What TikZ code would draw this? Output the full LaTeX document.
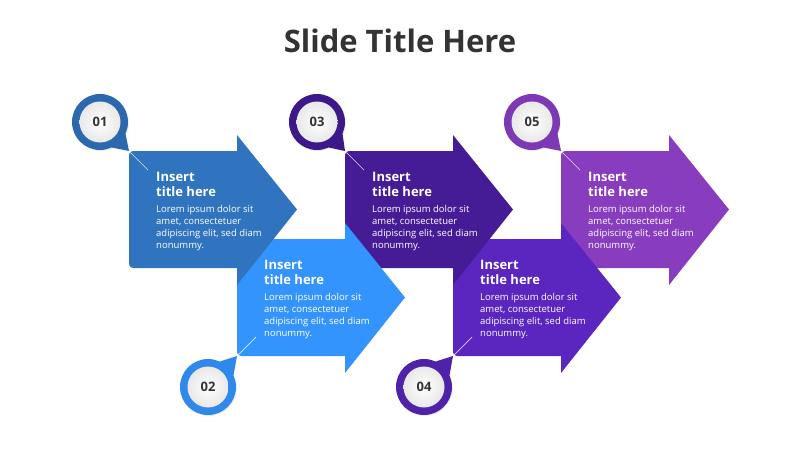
\documentclass[tikz,border=0pt]{standalone}
\usepackage{fontspec}
\setmainfont{Open Sans}
\usepackage{tikz}
\usetikzlibrary{calc,positioning,shadows}
\definecolor{arrowA}{HTML}{3074C0}
\definecolor{arrowB}{HTML}{3494FE}
\definecolor{arrowC}{HTML}{461C96}
\definecolor{arrowD}{HTML}{5B25BF}
\definecolor{arrowE}{HTML}{883DBF}
\definecolor{ringA}{HTML}{2B68AE}
\definecolor{ringB}{HTML}{2E89EA}
\definecolor{ringC}{HTML}{3D188A}
\definecolor{ringD}{HTML}{4F22A9}
\definecolor{ringE}{HTML}{7D38B3}
\definecolor{darkgray}{HTML}{333333}

\begin{document}
\begin{tikzpicture}[x=1pt,y=-1pt,
    ring/.style={circle,minimum size=56pt,inner sep=0pt,drop shadow={opacity=.15,shadow xshift=.8pt,shadow yshift=-1pt}},
    badge/.style={circle,minimum size=41pt,inner sep=0pt,inner color=white,outer color=black!9,text=darkgray,font=\bfseries\fontsize{13}{13}\selectfont},
    heading/.style={anchor=north west,inner sep=0pt,align=left,text=white,font=\bfseries\fontsize{13}{15}\selectfont},
    bodytext/.style={inner sep=0pt,align=left,text=white,font=\fontsize{9.5}{12}\selectfont},
    tick/.style={white,line width=.7pt,opacity=.8}]
    \fill[white] (0,0) rectangle (800,450);

    \node[font=\bfseries\fontsize{31}{31}\selectfont,text=darkgray,anchor=base] (title) at (400,52) {Slide Title Here};

    \fill[arrowE,rounded corners=4pt] (561,151) rectangle (677,268);
    \fill[arrowE] (669,135) -- (729,209.5) -- (669,285) -- cycle;
    \fill[arrowD,rounded corners=4pt] (453,239) rectangle (569,356);
    \fill[arrowD] (561,223) -- (621,297.5) -- (561,373) -- cycle;
    \fill[arrowC,rounded corners=4pt] (345,151) rectangle (461,268);
    \fill[arrowC] (453,135) -- (513,209.5) -- (453,285) -- cycle;
    \fill[arrowB,rounded corners=4pt] (237,239) rectangle (353,356);
    \fill[arrowB] (345,223) -- (405,297.5) -- (345,373) -- cycle;
    \fill[arrowA,rounded corners=4pt] (129,151) rectangle (245,268);
    \fill[arrowA] (237,135) -- (297,209.5) -- (237,285) -- cycle;

    \coordinate (K1) at (129,151);
    \coordinate (K2) at (237,356);
    \coordinate (K3) at (345,151);
    \coordinate (K4) at (453,356);
    \coordinate (K5) at (561,151);

    \node[heading]  (T1) at (156,172.5) {Insert\\title here};
    \node[bodytext] (B1) [below=7.8pt of T1.south west,anchor=north west] {Lorem ipsum dolor sit\\amet, consectetuer\\adipiscing elit, sed diam\\nonummy.};
    \node[heading]  (T2) at (264,260.5) {Insert\\title here};
    \node[bodytext] (B2) [below=7.8pt of T2.south west,anchor=north west] {Lorem ipsum dolor sit\\amet, consectetuer\\adipiscing elit, sed diam\\nonummy.};
    \node[heading]  (T3) at (372,172.5) {Insert\\title here};
    \node[bodytext] (B3) [below=7.8pt of T3.south west,anchor=north west] {Lorem ipsum dolor sit\\amet, consectetuer\\adipiscing elit, sed diam\\nonummy.};
    \node[heading]  (T4) at (480,260.5) {Insert\\title here};
    \node[bodytext] (B4) [below=7.8pt of T4.south west,anchor=north west] {Lorem ipsum dolor sit\\amet, consectetuer\\adipiscing elit, sed diam\\nonummy.};
    \node[heading]  (T5) at (588,172.5) {Insert\\title here};
    \node[bodytext] (B5) [below=7.8pt of T5.south west,anchor=north west] {Lorem ipsum dolor sit\\amet, consectetuer\\adipiscing elit, sed diam\\nonummy.};

    \draw[tick] (K1) -- ($(K1)+(19,19)$);
    \draw[tick] (K2) -- ($(K2)+(19,-19)$);
    \draw[tick] (K3) -- ($(K3)+(19,19)$);
    \draw[tick] (K4) -- ($(K4)+(19,-19)$);
    \draw[tick] (K5) -- ($(K5)+(19,19)$);

    \node[ring,fill=ringA] (R1) at (100,122) {};
    \node[ring,fill=ringB] (R2) at (208,387) {};
    \node[ring,fill=ringC] (R3) at (317,122) {};
    \node[ring,fill=ringD] (R4) at (424,387) {};
    \node[ring,fill=ringE] (R5) at (532,122) {};

    \fill[ringA] (R1.-25) -- (K1) -- (R1.-65) -- cycle;
    \fill[ringB] (R2.25)  -- (K2) -- (R2.65)  -- cycle;
    \fill[ringC] (R3.-25) -- (K3) -- (R3.-65) -- cycle;
    \fill[ringD] (R4.25)  -- (K4) -- (R4.65)  -- cycle;
    \fill[ringE] (R5.-25) -- (K5) -- (R5.-65) -- cycle;

    \node[badge] (N1) at (R1) {01};
    \node[badge] (N2) at (R2) {02};
    \node[badge] (N3) at (R3) {03};
    \node[badge] (N4) at (R4) {04};
    \node[badge] (N5) at (R5) {05};
\end{tikzpicture}
\end{document}
